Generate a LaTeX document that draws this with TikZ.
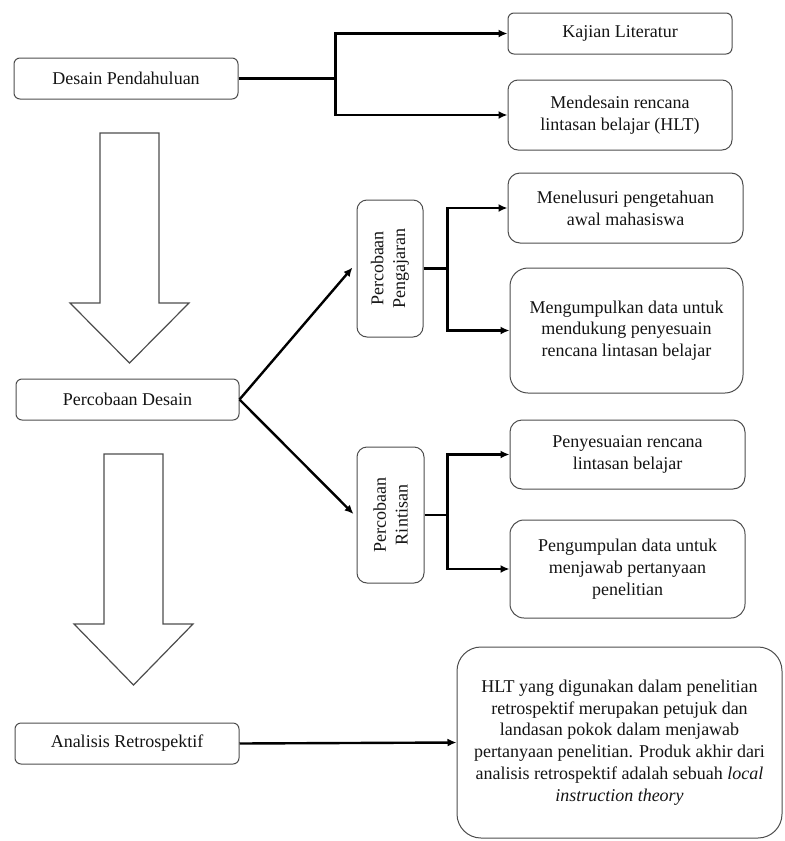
\documentclass[tikz,border=0pt]{standalone}
\usepackage{fontspec}
\setmainfont{Liberation Serif}
\usetikzlibrary{arrows.meta,calc,positioning}
\definecolor{Edge}{HTML}{4D4D4D}
\definecolor{Ink}{HTML}{141414}
\newcommand{\hollowarrow}[4]{%
  \draw[draw=Edge,line width=0.6pt,fill=white] (#1,#2) -- ++(59,0) -- (#1+59,#3) -- (#1+89,#3) -- (#1+29.5,#4) -- (#1-30,#3) -- (#1,#3) -- cycle;
}

\begin{document}
\begin{tikzpicture}[x=0.5pt,y=-0.5pt,
    box/.style={draw=Edge,line width=0.5pt,rounded corners=3pt,align=center,text=Ink,inner sep=2pt,
      font=\fontsize{9}{10.9}\selectfont},
    link/.style={line width=1.2pt,draw=black},
    >={Latex[length=4.5pt,width=4pt]}]
  \useasboundingbox (0,0) rectangle (784,841);
  \node[box,minimum width=112pt,minimum height=20.5pt] (pend) at (126,78.5) {Desain Pendahuluan};
  \node[box,minimum width=112pt,minimum height=20.5pt] (kajian) at (620,33.5) {Kajian Literatur};
  \node[box,minimum width=112pt,minimum height=35pt,rounded corners=5pt] (hlt) at (620,115) {Mendesain rencana\\lintasan belajar (HLT)};
  \node[box,minimum width=111.5pt,minimum height=20.5pt] (desain) at (127.5,399.5) {Percobaan Desain};
  \node[box,rotate=90,minimum width=68.5pt,minimum height=33pt,rounded corners=5pt] (ajar) at (390,268.5) {Percobaan\\Pengajaran};
  \node[box,minimum width=117.5pt,minimum height=35pt,rounded corners=6pt] (telusur) at (625.5,208) {Menelusuri pengetahuan\\awal mahasiswa};
  \node[box,minimum width=116.5pt,minimum height=62.5pt,rounded corners=9pt] (kumpul) at (626.5,330.5) {Mengumpulkan data untuk\\mendukung penyesuain\\rencana lintasan belajar};
  \node[box,rotate=90,minimum width=68pt,minimum height=33.5pt,rounded corners=5pt] (rintis) at (390.5,515) {Percobaan\\Rintisan};
  \node[box,minimum width=117.5pt,minimum height=34.5pt,rounded corners=6pt] (sesuai) at (627.5,454.5) {Penyesuaian rencana\\lintasan belajar};
  \node[box,minimum width=117.5pt,minimum height=49pt,rounded corners=7pt] (jawab) at (627.5,569) {Pengumpulan data untuk\\menjawab pertanyaan\\penelitian};
  \node[box,minimum width=112pt,minimum height=20.5pt] (retro) at (127,743.5) {Analisis Retrospektif};
  \node[box,minimum width=162.5pt,minimum height=95.5pt,rounded corners=12pt] (produk) at (619.5,742.5)
    {HLT yang digunakan dalam penelitian\\retrospektif merupakan petujuk dan\\landasan pokok dalam menjawab\\pertanyaan penelitian. Produk akhir dari\\analisis retrospektif adalah sebuah \textit{local}\\\textit{instruction theory}};
  \hollowarrow{100}{133}{303}{363}
  \hollowarrow{104}{454}{624}{685}
  \draw[link] (pend.east) -- ++(97,0) coordinate (forka);
  \draw[link,->] (forka) |- (kajian.west);
  \draw[link,->] (forka) |- (hlt.west);
  \draw[link,->] (desain.east) -- ($(ajar.north)+(-4,-1)$);
  \draw[link,->] (desain.east) -- ($(rintis.north)+(-3,-1)$);
  \draw[link] (ajar.south) -- ++(24,0) coordinate (forkb);
  \draw[link,->] (forkb) |- (telusur.west);
  \draw[link,->] (forkb) |- (kumpul.west);
  \draw[link] (rintis.south) -- ++(23,0) coordinate (forkc);
  \draw[link,->] (forkc) |- (sesuai.west);
  \draw[link,->] (forkc) |- (jawab.west);
  \draw[link,->] (retro.east) -- (produk.west);
\end{tikzpicture}
\end{document}
